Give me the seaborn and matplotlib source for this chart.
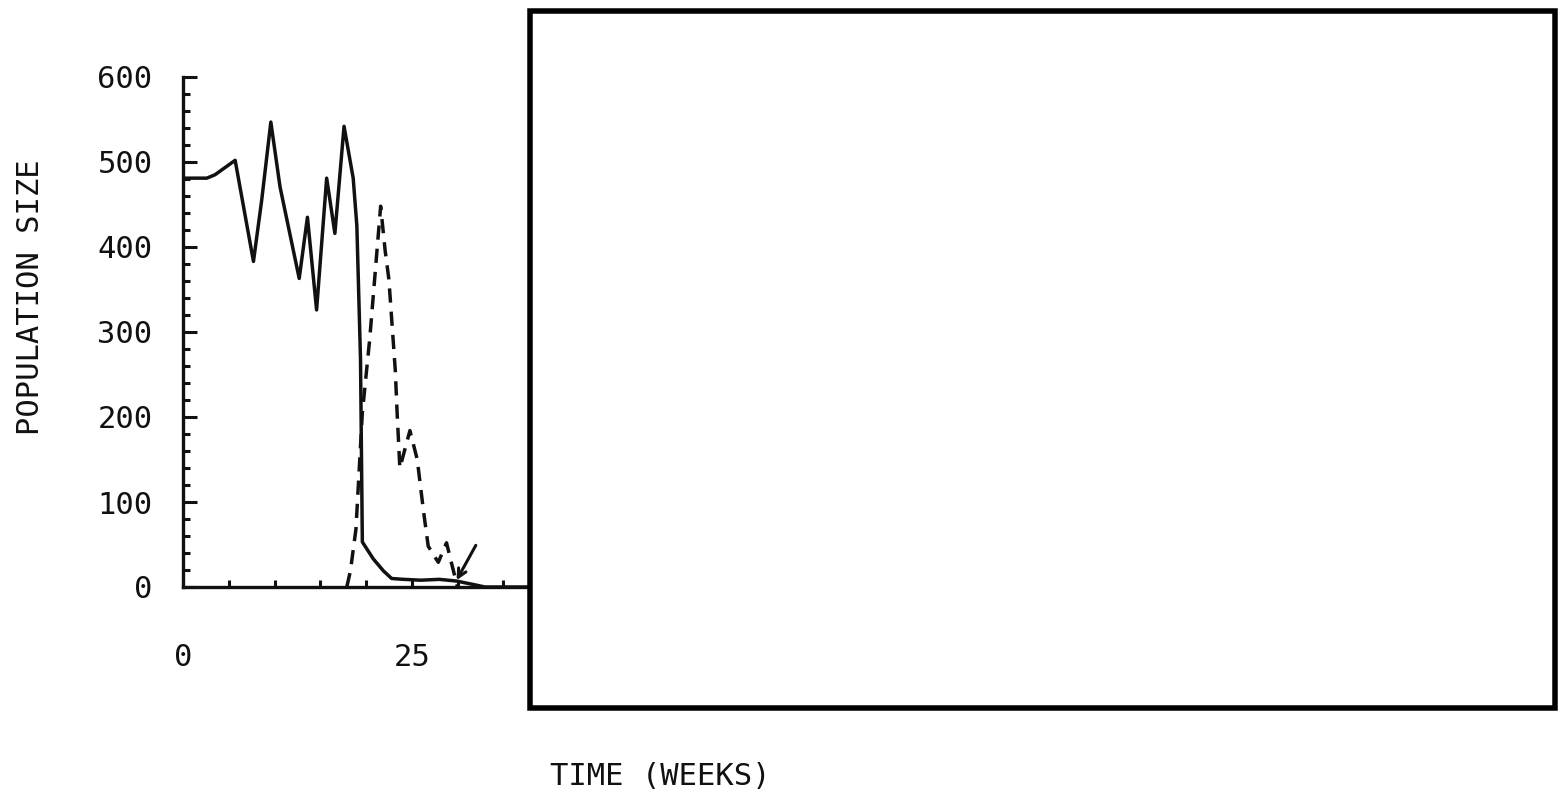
import matplotlib
matplotlib.use("Agg")
import matplotlib.pyplot as plt
from matplotlib.patches import Rectangle
from matplotlib.ticker import MultipleLocator
import pandas as pd
import seaborn as sns

# ---- data ----
host_weeks = [0, 2.6, 3.5, 5.7, 7.7, 8.6, 9.6, 10.6, 12.7, 13.6, 14.6, 15.7, 16.6,
              17.6, 18.6, 19.0, 19.4, 19.6, 20.8, 21.9, 22.8, 24.1, 26.0, 28.0,
              29.9, 31.7, 33.0, 40.0]
host_size = [481, 481, 485, 502, 383, 455, 547, 471, 363, 435, 326, 481, 416,
             542, 481, 425, 268, 53, 33, 19, 10, 9, 8, 9,
             7, 3, 0, 0]

parasite_weeks = [17.9, 18.3, 18.9, 19.6, 20.4, 21.6, 22.1, 22.5, 23.2, 23.4, 23.7,
                  24.8, 25.6, 26.3, 26.8, 27.9, 28.8, 29.3, 30.0]
parasite_size = [0, 19, 68, 205, 291, 448, 395, 362, 255, 205, 140,
                 184, 150, 88, 48, 29, 52, 30, 0]

arrow_tip = (29.9, 8)
arrow_tail = (32.0, 49)

y_ticks = [0, 100, 200, 300, 400, 500, 600]
x_ticks = [0, 25, 50, 75, 100]
x_label = "TIME (WEEKS)"
y_label = "POPULATION SIZE"

# ---- style ----
sns.set_style("ticks")
plt.rcParams["font.family"] = ["DejaVu Sans Mono", "DejaVu Sans"]
ink = "#111111"
fs = 22

df = pd.concat([
    pd.DataFrame({"week": host_weeks, "size": host_size, "series": "host"}),
    pd.DataFrame({"week": parasite_weeks, "size": parasite_size, "series": "parasite"}),
], ignore_index=True)

W, H = 1560, 792
fig = plt.figure(figsize=(W / 100, H / 100), dpi=100)
fig.patch.set_facecolor("white")
ax = fig.add_axes([183 / W, 1 - 587 / H, 915 / W, 510 / H])
ax.set_facecolor("white")

sns.lineplot(data=df, x="week", y="size", style="series",
             dashes={"host": "", "parasite": (4.1, 2.6)},
             color=ink, linewidth=2.5, legend=False, ax=ax,
             estimator=None, sort=False)

ax.annotate("", xy=arrow_tip, xytext=arrow_tail,
            arrowprops=dict(arrowstyle="->", color=ink, lw=2.2,
                            shrinkA=0, shrinkB=0, mutation_scale=15))

ax.set_xlim(0, 100)
ax.set_ylim(0, 600)
ax.set_yticks(y_ticks)
ax.yaxis.set_minor_locator(MultipleLocator(20))
ax.set_xticks(x_ticks)
ax.xaxis.set_minor_locator(MultipleLocator(5))

ax.tick_params(axis="y", which="major", direction="in", length=10, width=2.2,
               pad=22, labelsize=fs, colors=ink)
ax.tick_params(axis="y", which="minor", direction="in", length=5, width=2.2, colors=ink)
ax.tick_params(axis="x", which="both", direction="in", length=5, width=2.2, colors=ink)
ax.tick_params(axis="x", which="major", pad=40, labelsize=fs)

for s in ["top", "right"]:
    ax.spines[s].set_visible(False)
for s in ["left", "bottom"]:
    ax.spines[s].set_linewidth(2.4)
    ax.spines[s].set_color(ink)

ax.set_xlabel(x_label, fontsize=fs, color=ink)
ax.xaxis.set_label_coords(0.522, -0.343)
ax.set_ylabel(y_label, fontsize=fs, color=ink)
ax.yaxis.set_label_coords(-0.151, 0.569)

# white panel with heavy black frame covering the right part
fig.add_artist(Rectangle((530 / W, 1 - 707.5 / H), (1555 - 530) / W, (707.5 - 11) / H,
                         transform=fig.transFigure, facecolor="white",
                         edgecolor="black", linewidth=3.96, zorder=10))

fig.savefig("out.png", dpi=100)
